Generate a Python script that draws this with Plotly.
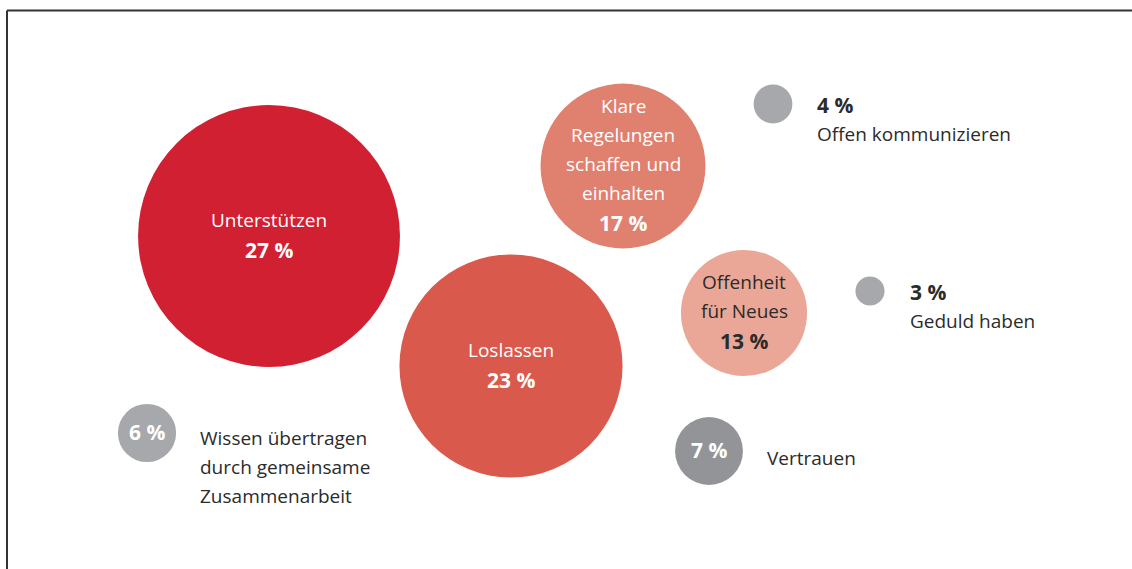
import plotly.graph_objects as go

# ---- data ----
labels = [
    ["Unterstützen"],
    ["Loslassen"],
    ["Klare", "Regelungen", "schaffen und", "einhalten"],
    ["Offenheit", "für Neues"],
    ["Offen kommunizieren"],
    ["Geduld haben"],
    ["Wissen übertragen", "durch gemeinsame", "Zusammenarbeit"],
    ["Vertrauen"],
]
values = [27, 23, 17, 13, 4, 3, 6, 7]

# ---- layout (pixel-like positions of bubble centres) ----
cx = [269, 511, 623, 744, 773, 870, 147, 709]
cy = [236, 366, 166, 313, 104, 291, 433, 451]
# label placement style per bubble
place = ["inside", "inside", "inside", "inside", "right_pct", "right_pct", "right_label", "right_label"]
label_dy = [0, 0, 0, 0, 0, 0, 5, 7]
colors = ["#D12032", "#D9594C", "#E0806F", "#EAA797", "#A7A8AB", "#A7A8AB", "#A7A8AB", "#939497"]
text_dark = [False, False, False, True, True, True, True, True]

W, H = 1132, 569
PX_PER_PCT = 9.7  # diameter per percent point
LINE = 29
FONT = "Open Sans"
FS = 19
FS_PCT = 21

fig = go.Figure()
fig.add_trace(go.Scatter(
    x=cx, y=cy, mode="markers",
    marker=dict(size=values, sizemode="diameter", sizeref=1 / PX_PER_PCT,
                color=colors, line=dict(width=0), opacity=1),
    hoverinfo="skip", showlegend=False,
))

ann = []
dark = "#2B2B2B"


def add(x, y, t, anchor, col, size):
    ann.append(dict(x=x, y=y, text=t, xanchor=anchor, yanchor="middle", showarrow=False,
                    font=dict(family=FONT, size=size, color=col)))


for i, (lines, v) in enumerate(zip(labels, values)):
    r = v * PX_PER_PCT / 2
    pct = f"<b>{v} %</b>"
    if place[i] == "inside":
        col = dark if text_dark[i] else "white"
        n = len(lines) + 1
        y0 = cy[i] - (n - 1) * LINE / 2 - 2
        for k, t in enumerate(lines):
            add(cx[i], y0 + k * LINE, t, "center", col, FS)
        add(cx[i], y0 + len(lines) * LINE + 1, pct, "center", col, FS_PCT)
    elif place[i] == "right_pct":
        x0 = cx[i] + r + 23
        add(x0, cy[i] + 1, pct, "left", dark, FS_PCT)
        for k, t in enumerate(lines):
            add(x0, cy[i] + 1 + (k + 1) * LINE, t, "left", dark, FS)
    else:
        add(cx[i], cy[i] - 1, pct, "center", "white", FS_PCT)
        x0 = cx[i] + r + 22
        for k, t in enumerate(lines):
            add(x0, cy[i] + label_dy[i] + k * LINE, t, "left", dark, FS)

fig.update_layout(
    width=W, height=H,
    margin=dict(l=0, r=0, t=0, b=0),
    paper_bgcolor="white", plot_bgcolor="white",
    xaxis=dict(range=[0, W], visible=False, fixedrange=True),
    yaxis=dict(range=[H, 0], visible=False, fixedrange=True),
    annotations=ann,
    shapes=[
        dict(type="line", xref="paper", yref="paper", x0=7 / W, x1=1, y0=1 - 10.5 / H, y1=1 - 10.5 / H,
             line=dict(color="#333333", width=2)),
        dict(type="line", xref="paper", yref="paper", x0=7 / W, x1=7 / W, y0=0, y1=1 - 10.5 / H,
             line=dict(color="#333333", width=2)),
    ],
)
fig.write_html("out.html", config={"displayModeBar": False},
               post_script="document.body.style.margin='0';document.body.style.overflow='hidden';")
